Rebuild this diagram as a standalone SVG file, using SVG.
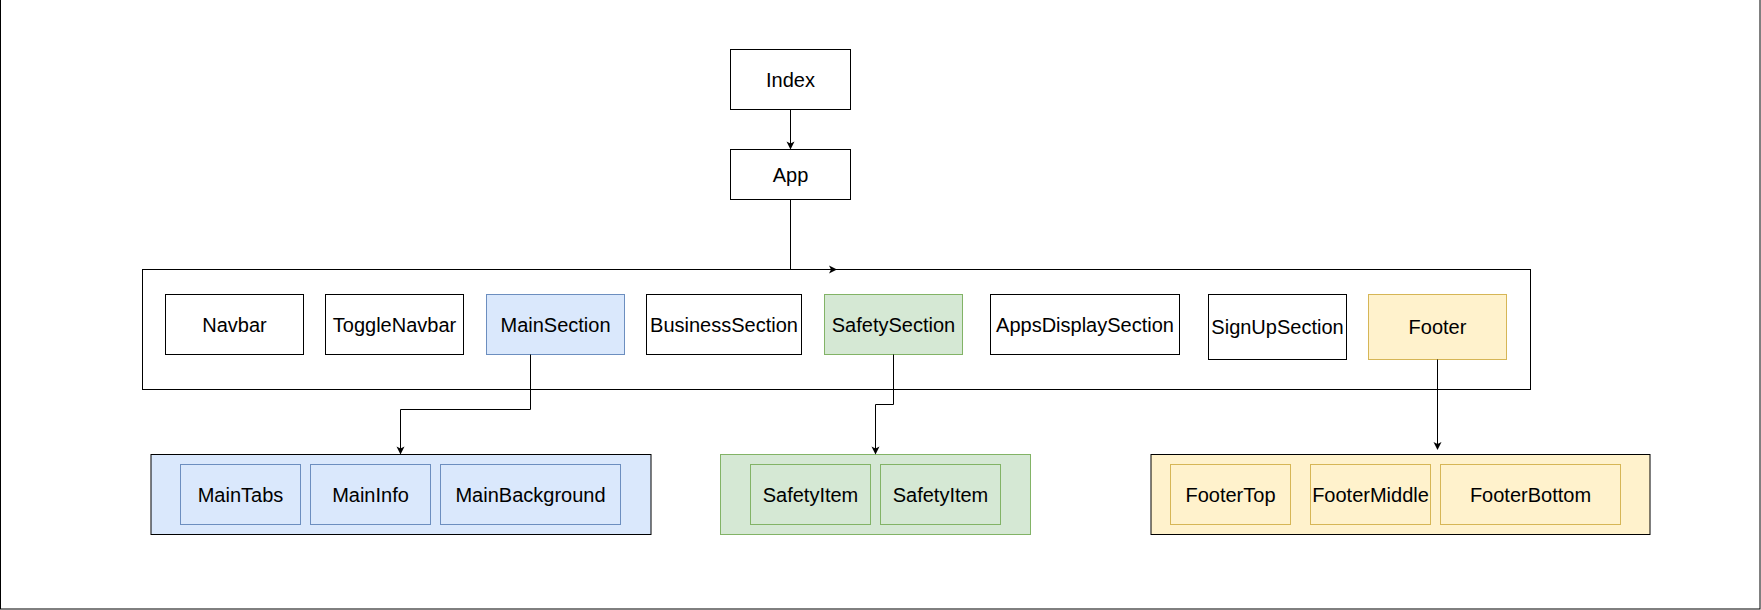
<svg xmlns="http://www.w3.org/2000/svg" width="1761" height="610" viewBox="0 0 1761 610">
<defs>
<marker id="arr" markerWidth="10" markerHeight="10" refX="8" refY="5" orient="auto" markerUnits="userSpaceOnUse">
<path d="M1,1 L9,5 L1,9 L3,5 Z" fill="#000"/>
</marker>
<style>
text{font-family:"Liberation Sans",Arial,sans-serif;font-size:20px;fill:#000;text-anchor:middle;dominant-baseline:central}
.plain{fill:#fff;stroke:#000;stroke-width:1}
.blue{fill:#dae8fc;stroke:#6c8ebf;stroke-width:1}
.green{fill:#d5e8d4;stroke:#82b366;stroke-width:1}
.yellow{fill:#fff2cc;stroke:#d6b656;stroke-width:1}
.edge{fill:none;stroke:#000;stroke-width:1}
</style>
</defs>
<rect x="0.5" y="-5" width="1759.5" height="614" fill="#fff" stroke="#000" stroke-width="1"/>
<g id="container"><rect class="plain" x="142.5" y="269.5" width="1388" height="120"/></g>
<g id="index"><rect class="plain" x="730.5" y="49.5" width="120" height="60"/><text x="790.5" y="79.5">Index</text></g>
<g id="app"><rect class="plain" x="730.5" y="149.5" width="120" height="50"/><text x="790.5" y="174.5">App</text></g>
<g id="navbar"><rect class="plain" x="165.5" y="294.5" width="138" height="60"/><text x="234.5" y="324.5">Navbar</text></g>
<g id="togglenavbar"><rect class="plain" x="325.5" y="294.5" width="138" height="60"/><text x="394.5" y="324.5">ToggleNavbar</text></g>
<g id="mainsection"><rect class="blue" x="486.5" y="294.5" width="138" height="60"/><text x="555.5" y="324.5">MainSection</text></g>
<g id="businesssection"><rect class="plain" x="646.5" y="294.5" width="155" height="60"/><text x="724" y="324.5">BusinessSection</text></g>
<g id="safetysection"><rect class="green" x="824.5" y="294.5" width="138" height="60"/><text x="893.5" y="324.5">SafetySection</text></g>
<g id="appsdisplaysection"><rect class="plain" x="990.5" y="294.5" width="189" height="60"/><text x="1085" y="324.5">AppsDisplaySection</text></g>
<g id="signupsection"><rect class="plain" x="1208.5" y="294.5" width="138" height="65"/><text x="1277.5" y="327">SignUpSection</text></g>
<g id="footer"><rect class="yellow" x="1368.5" y="294.5" width="138" height="65"/><text x="1437.5" y="327">Footer</text></g>
<g id="maingroup"><rect fill="#dae8fc" stroke="#000" x="151" y="454.5" width="500" height="80"/>
<rect class="blue" x="180.5" y="464.5" width="120" height="60"/><text x="240.5" y="494.5">MainTabs</text>
<rect class="blue" x="310.5" y="464.5" width="120" height="60"/><text x="370.5" y="494.5">MainInfo</text>
<rect class="blue" x="440.5" y="464.5" width="180" height="60"/><text x="530.5" y="494.5">MainBackground</text></g>
<g id="safetygroup"><rect class="green" x="720.5" y="454.5" width="310" height="80"/>
<rect class="green" x="750.5" y="464.5" width="120" height="60"/><text x="810.5" y="494.5">SafetyItem</text>
<rect class="green" x="880.5" y="464.5" width="120" height="60"/><text x="940.5" y="494.5">SafetyItem</text></g>
<g id="footergroup"><rect fill="#fff2cc" stroke="#000" x="1151" y="454.5" width="499" height="80"/>
<rect class="yellow" x="1170.5" y="464.5" width="120" height="60"/><text x="1230.5" y="494.5">FooterTop</text>
<rect class="yellow" x="1310.5" y="464.5" width="120" height="60"/><text x="1370.5" y="494.5">FooterMiddle</text>
<rect class="yellow" x="1440.5" y="464.5" width="180" height="60"/><text x="1530.5" y="494.5">FooterBottom</text></g>
<g id="connectors">
<path class="edge" d="M790.5,109.5 L790.5,148.5" marker-end="url(#arr)"/>
<path class="edge" d="M790.5,199.5 L790.5,269.5 L836,269.5" marker-end="url(#arr)"/>
<path class="edge" d="M530.5,354.5 L530.5,409.5 L400.5,409.5 L400.5,453.5" marker-end="url(#arr)"/>
<path class="edge" d="M893.5,354.5 L893.5,404.5 L875.5,404.5 L875.5,453.5" marker-end="url(#arr)"/>
<path class="edge" d="M1437.5,359.5 L1437.5,449" marker-end="url(#arr)"/>
</g>
</svg>
